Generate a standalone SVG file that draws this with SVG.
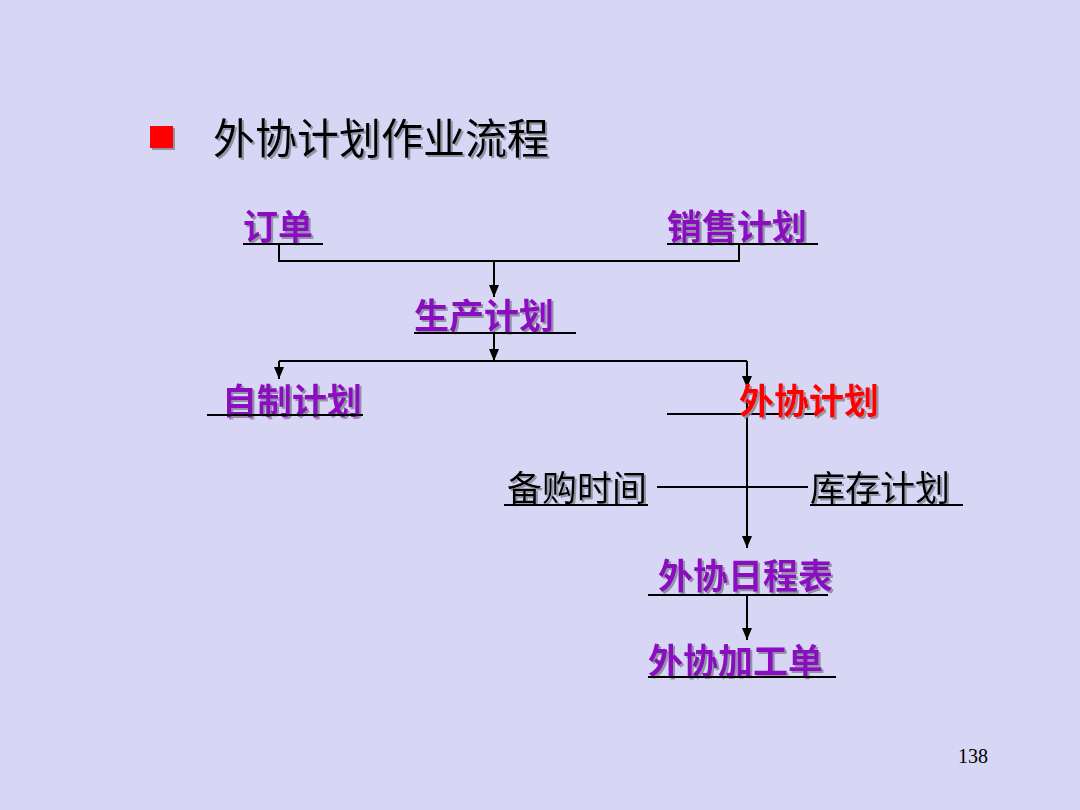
<svg xmlns="http://www.w3.org/2000/svg" width="1080" height="810" viewBox="0 0 1080 810">
<defs>
<style>
.t{font-family:"Noto Sans CJK SC","Noto Sans",sans-serif;}
.p{fill:#8A0AC0;font-weight:bold;font-size:35px;filter:url(#sh);}
.r{fill:#FF0000;font-weight:bold;font-size:35px;filter:url(#sh);}
.k{fill:#000;font-size:35px;filter:url(#sh);}
.ln{stroke:#000;stroke-width:2;fill:none;}
</style>
<filter id="sh" x="-10%" y="-10%" width="130%" height="140%">
<feDropShadow dx="2" dy="2" stdDeviation="0.6" flood-color="#8c8c9c" flood-opacity="0.9"/>
</filter>
<marker id="ar" markerWidth="10" markerHeight="12" refX="5" refY="11" orient="auto-start-reverse" markerUnits="userSpaceOnUse" viewBox="0 0 10 12">
<path d="M0,0 L10,0 L5,12 Z" fill="#000" transform="rotate(0)"/>
</marker>
<marker id="ad" markerWidth="10" markerHeight="12" refX="5" refY="12" orient="0" markerUnits="userSpaceOnUse" viewBox="0 0 10 12">
<path d="M0,0 L10,0 L5,12 Z" fill="#000"/>
</marker>
</defs>
<rect width="1080" height="810" fill="#D7D7F5"/>
<g id="title">
<rect x="150" y="126" width="23" height="22" fill="#FF0000" filter="url(#sh)"/>
<text class="t" x="213" y="154" font-size="42" fill="#000" filter="url(#sh)">外协计划作业流程</text>
</g>
<g id="connectors">
<path class="ln" d="M279,244 V261 H739 V244"/>
<path class="ln" d="M494,261 V297" marker-end="url(#ad)"/>
<path class="ln" d="M494,333 V361" marker-end="url(#ad)"/>
<path class="ln" d="M279,361 H747"/>
<path class="ln" d="M279,361 V379" marker-end="url(#ad)"/>
<path class="ln" d="M747,361 V388" marker-end="url(#ad)"/>
<path class="ln" d="M747,388 V548" marker-end="url(#ad)"/>
<path class="ln" d="M657,487 H808"/>
<path class="ln" d="M747,595 V640" marker-end="url(#ad)"/>
</g>
<g id="node-dingdan">
<text class="t p" x="243" y="240">订单</text>
<path class="ln" d="M243,244 H323"/>
</g>
<g id="node-xiaoshou">
<text class="t p" x="667" y="240">销售计划</text>
<path class="ln" d="M667,244 H818"/>
</g>
<g id="node-shengchan">
<text class="t p" x="414" y="329">生产计划</text>
<path class="ln" d="M414,333 H576"/>
</g>
<g id="node-zizhi">
<text class="t p" x="222" y="414">自制计划</text>
<path class="ln" d="M207,415 H363"/>
</g>
<g id="node-waixie">
<path class="ln" d="M667,414 H820"/>
<text class="t r" x="739" y="414">外协计划</text>
</g>
<g id="node-beigou">
<text class="t k" x="507" y="501">备购时间</text>
<path class="ln" d="M504,505 H648"/>
</g>
<g id="node-kucun">
<text class="t k" x="810" y="501">库存计划</text>
<path class="ln" d="M810,505 H963"/>
</g>
<g id="node-richeng">
<text class="t p" x="658" y="589">外协日程表</text>
<path class="ln" d="M648,595 H828"/>
</g>
<g id="node-jiagong">
<text class="t p" x="648" y="674">外协加工单</text>
<path class="ln" d="M648,677 H836"/>
</g>
<text x="958" y="763" font-family="Liberation Serif,serif" font-size="20" fill="#000">138</text>
</svg>
